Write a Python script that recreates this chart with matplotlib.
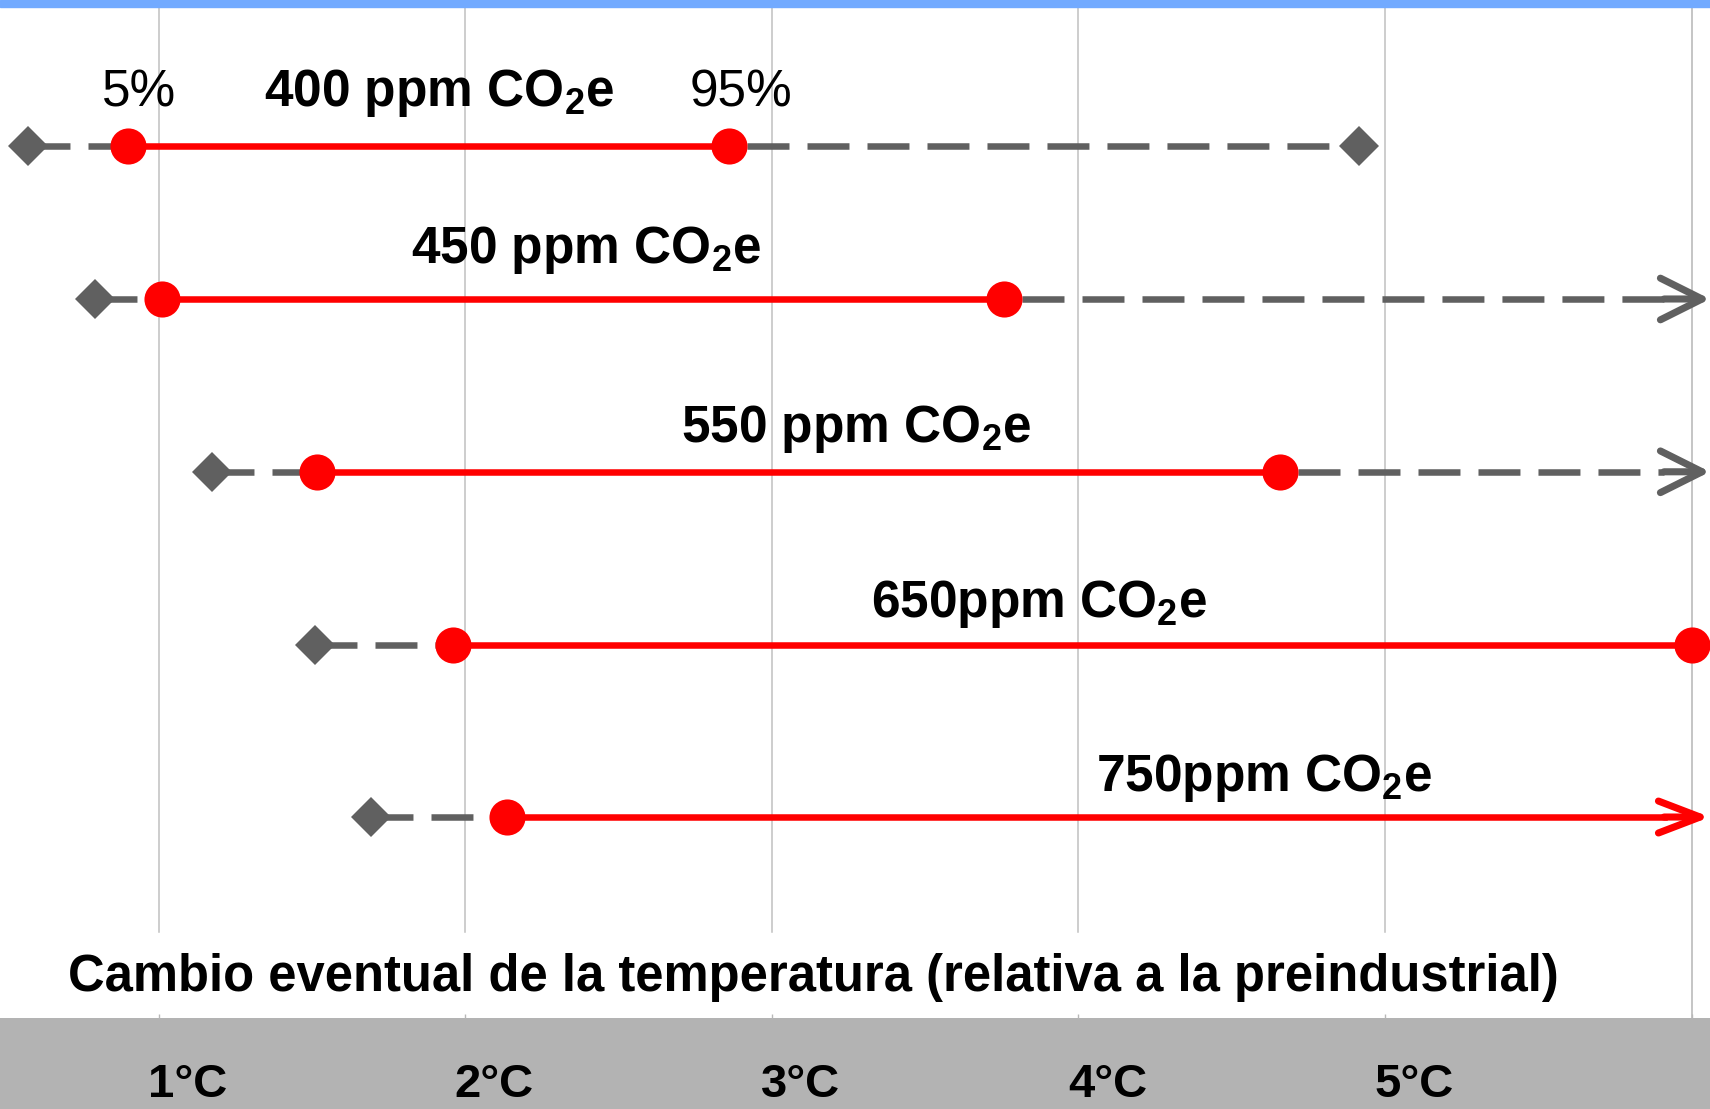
import numpy as np
import matplotlib.pyplot as plt
from matplotlib.patches import Rectangle

plt.rcParams['font.family'] = ['Liberation Sans', 'DejaVu Sans']
plt.rcParams['mathtext.fontset'] = 'custom'
plt.rcParams['mathtext.rm'] = 'Liberation Sans:bold'
plt.rcParams['mathtext.it'] = 'Liberation Sans:bold'
plt.rcParams['mathtext.bf'] = 'Liberation Sans:bold'
plt.rcParams['mathtext.default'] = 'rm'

# escenarios de estabilizacion, de arriba a abajo
labels = ['400 ppm CO$_2$e', '450 ppm CO$_2$e', '550 ppm CO$_2$e',
          '650ppm CO$_2$e', '750ppm CO$_2$e']
t_min = [0.575, 0.793, 1.175, 1.510, 1.692]        # rombo izquierdo
t_p5 = [0.900, 1.010, 1.516, 1.961, 2.135]         # percentil 5
t_p95 = [2.860, 3.758, 4.658, 6.000, np.nan]       # percentil 95 (nan = sigue)
t_max = [4.916, np.nan, np.nan, np.nan, np.nan]    # rombo derecho
open_end = [False, True, True, False, True]        # flecha al borde

ticks = [1, 2, 3, 4, 5]
tick_labels = ['1°C', '2°C', '3°C', '4°C', '5°C']

# layout
row_pos = [0, 0.912, 1.942, 2.975, 4.0]
label_x = [1.915, 2.394, 3.275, 3.871, 4.605]
label_dy = [-0.238, -0.215, -0.179, -0.167, -0.157]

RED = '#ff0000'
GRAY = '#606060'
LW = 4.7
ON, OFF = 6.43, 2.76
TIP = 6.06
HEAD = 0.15

fig = plt.figure(figsize=(17.1, 11.09), dpi=100)
H = 1109.0
ax = fig.add_axes([0, (H - 1018) / H, 1, (1018 - 7) / H])
ax.set_xlim(0.483, 6.060)
ax.set_ylim(5.198, -0.8286)
ax.axis('off')

# lineas de la cuadricula
for t in ticks:
    ax.axvline(t, ymin=(1018 - 932) / 1011, ymax=1, color='#c0c0c0', lw=1.1, zorder=0)
ax.axvline(6, ymin=0, ymax=1, color='#c0c0c0', lw=1.3, zorder=0)

def chevron(x, y, color, hw):
    ax.annotate('', xy=(x, y), xytext=(x - HEAD, y),
                arrowprops=dict(arrowstyle=f'->,head_length=3.0,head_width={hw}',
                                color=color, lw=LW + 0.4, shrinkA=0, shrinkB=0,
                                mutation_scale=10),
                annotation_clip=False)

for i, y in enumerate(row_pos):
    ax.plot([t_min[i], t_p5[i]], [y, y], color=GRAY, lw=LW,
            linestyle=(0, (ON, OFF)), solid_capstyle='butt', zorder=2)
    if np.isnan(t_p95[i]):
        ax.plot([t_p5[i], TIP - HEAD], [y, y], color=RED, lw=LW, zorder=3)
        chevron(TIP, y, RED, 1.15)
    else:
        ax.plot([t_p5[i], t_p95[i]], [y, y], color=RED, lw=LW, zorder=3)
        if not np.isnan(t_max[i]):
            ax.plot([t_p95[i], t_max[i]], [y, y], color=GRAY, lw=LW,
                    linestyle=(ON, (ON, OFF)), zorder=2)
            ax.plot(t_max[i], y, 'D', color=GRAY, ms=20, mew=0, zorder=4)
        elif open_end[i]:
            ax.plot([t_p95[i], TIP - HEAD], [y, y], color=GRAY, lw=LW,
                    linestyle=(ON, (ON, OFF)), zorder=2)
            chevron(TIP, y, GRAY, 1.5)
        ax.plot(t_p95[i], y, 'o', color=RED, ms=26, mew=0, zorder=5, clip_on=False)
    ax.plot(t_min[i], y, 'D', color=GRAY, ms=20, mew=0, zorder=4)
    ax.plot(t_p5[i], y, 'o', color=RED, ms=26, mew=0, zorder=5)
    ax.text(label_x[i], y + label_dy[i], labels[i], ha='center', va='baseline',
            fontsize=37, fontweight='bold')

ax.text(0.936, row_pos[0] + label_dy[0], '5%', ha='center', va='baseline', fontsize=37)
ax.text(2.900, row_pos[0] + label_dy[0], '95%', ha='center', va='baseline', fontsize=37)

fig.text(813 / 1710, 1 - 991 / H,
         'Cambio eventual de la temperatura (relativa a la preindustrial)',
         ha='center', va='baseline', fontsize=36.5, fontweight='bold')

# banda gris inferior
band = fig.add_axes([0, 0, 1, (H - 1018) / H])
band.set_facecolor('#b3b3b3')
band.set_xlim(ax.get_xlim())
band.set_ylim(0, 1)
for s in band.spines.values():
    s.set_visible(False)
band.set_yticks([])
band.set_xticks(ticks + [6])
band.tick_params(axis='x', top=True, bottom=False, labeltop=False, labelbottom=False,
                 direction='out', length=3, width=1, color='#b8b8b8')
for t, lab in zip(ticks, tick_labels):
    band.text(t + 0.095, 0.135, lab, ha='center', va='baseline',
              fontsize=34, fontweight='bold')

# franja azul superior
fig.patches.append(Rectangle((0, 1 - 7 / H), 1, 7 / H, transform=fig.transFigure,
                             color='#72aaff', zorder=10))

fig.savefig('out.png', dpi=100)
